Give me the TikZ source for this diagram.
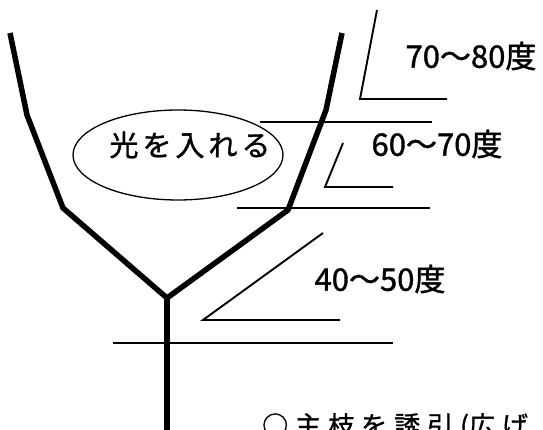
\documentclass[tikz,border=0pt]{standalone}
\usepackage{fontspec}
\newfontfamily\jp[FakeBold=1.2]{Noto Sans CJK JP}
\newcommand{\gap}{\kern4pt}
\newcommand{\cgap}{\kern7pt}
\begin{document}
\begin{tikzpicture}[x=1pt,y=-1pt,
  branch/.style={line width=5.5pt, line join=round},
  guide/.style={line width=1.9pt},
  oval/.style={draw, line width=1.3pt},
  lbl/.style={font=\jp\fontsize{31}{31}\selectfont, inner sep=0pt},
  note/.style={font=\jp\fontsize{29}{29}\selectfont, inner sep=0pt},
]
\clip (0,0) rectangle (543,430);
\fill[white] (0,0) rectangle (543,430);
% tree
\coordinate (ltop) at (10,33);
\coordinate (lmid) at (27,115);
\coordinate (lelb) at (63,208);
\coordinate (fork) at (167,298);
\coordinate (relb) at (288,210);
\coordinate (rmid) at (326,110);
\coordinate (rtop) at (342,33);
\coordinate (base) at (167,432);
\draw[branch] (ltop) -- (lmid) -- (lelb) -- (fork) -- (relb) -- (rmid) -- (rtop);
\draw[branch] (fork) -- (base);
% horizontal levels
\coordinate (h1a) at (260,122); \coordinate (h1b) at (432,122);
\coordinate (h2a) at (237,208); \coordinate (h2b) at (430,208);
\coordinate (h3a) at (113,343); \coordinate (h3b) at (393,343);
\draw[guide] (h1a) -- (h1b);
\draw[guide] (h2a) -- (h2b);
\draw[guide] (h3a) -- (h3b);
% angle marks
\coordinate (a1) at (377,10); \coordinate (v1) at (360,99); \coordinate (e1) at (447,99);
\coordinate (a2) at (343,143); \coordinate (v2) at (325,187); \coordinate (e2) at (393,187);
\coordinate (a3) at (323,233); \coordinate (v3) at (203,320); \coordinate (e3) at (340,320);
\draw[guide] (a1) -- (v1) -- (e1);
\draw[guide] (a2) -- (v2) -- (e2);
\draw[guide] (a3) -- (v3) -- (e3);
% labels
\node[lbl] (l1) at (471,56) {70～80度};
\node[lbl] (l2) at (437,144) {60～70度};
\node[lbl] (l3) at (380,279) {40～50度};
% ellipse with text
\draw[oval] (178,155) ellipse [x radius=105, y radius=45];
\node[note] (light) at (190,145) {光\gap を\gap 入\gap れ\gap る};
% bottom caption (cut off at the picture's edge, as in the reference)
\node[note, anchor=base west, font=\jp\fontsize{26}{26}\selectfont] (cap) at (262,435) {○\cgap 主\cgap 枝\cgap を\cgap 誘\cgap 引\cgap (広\cgap げ};
\end{tikzpicture}
\end{document}
